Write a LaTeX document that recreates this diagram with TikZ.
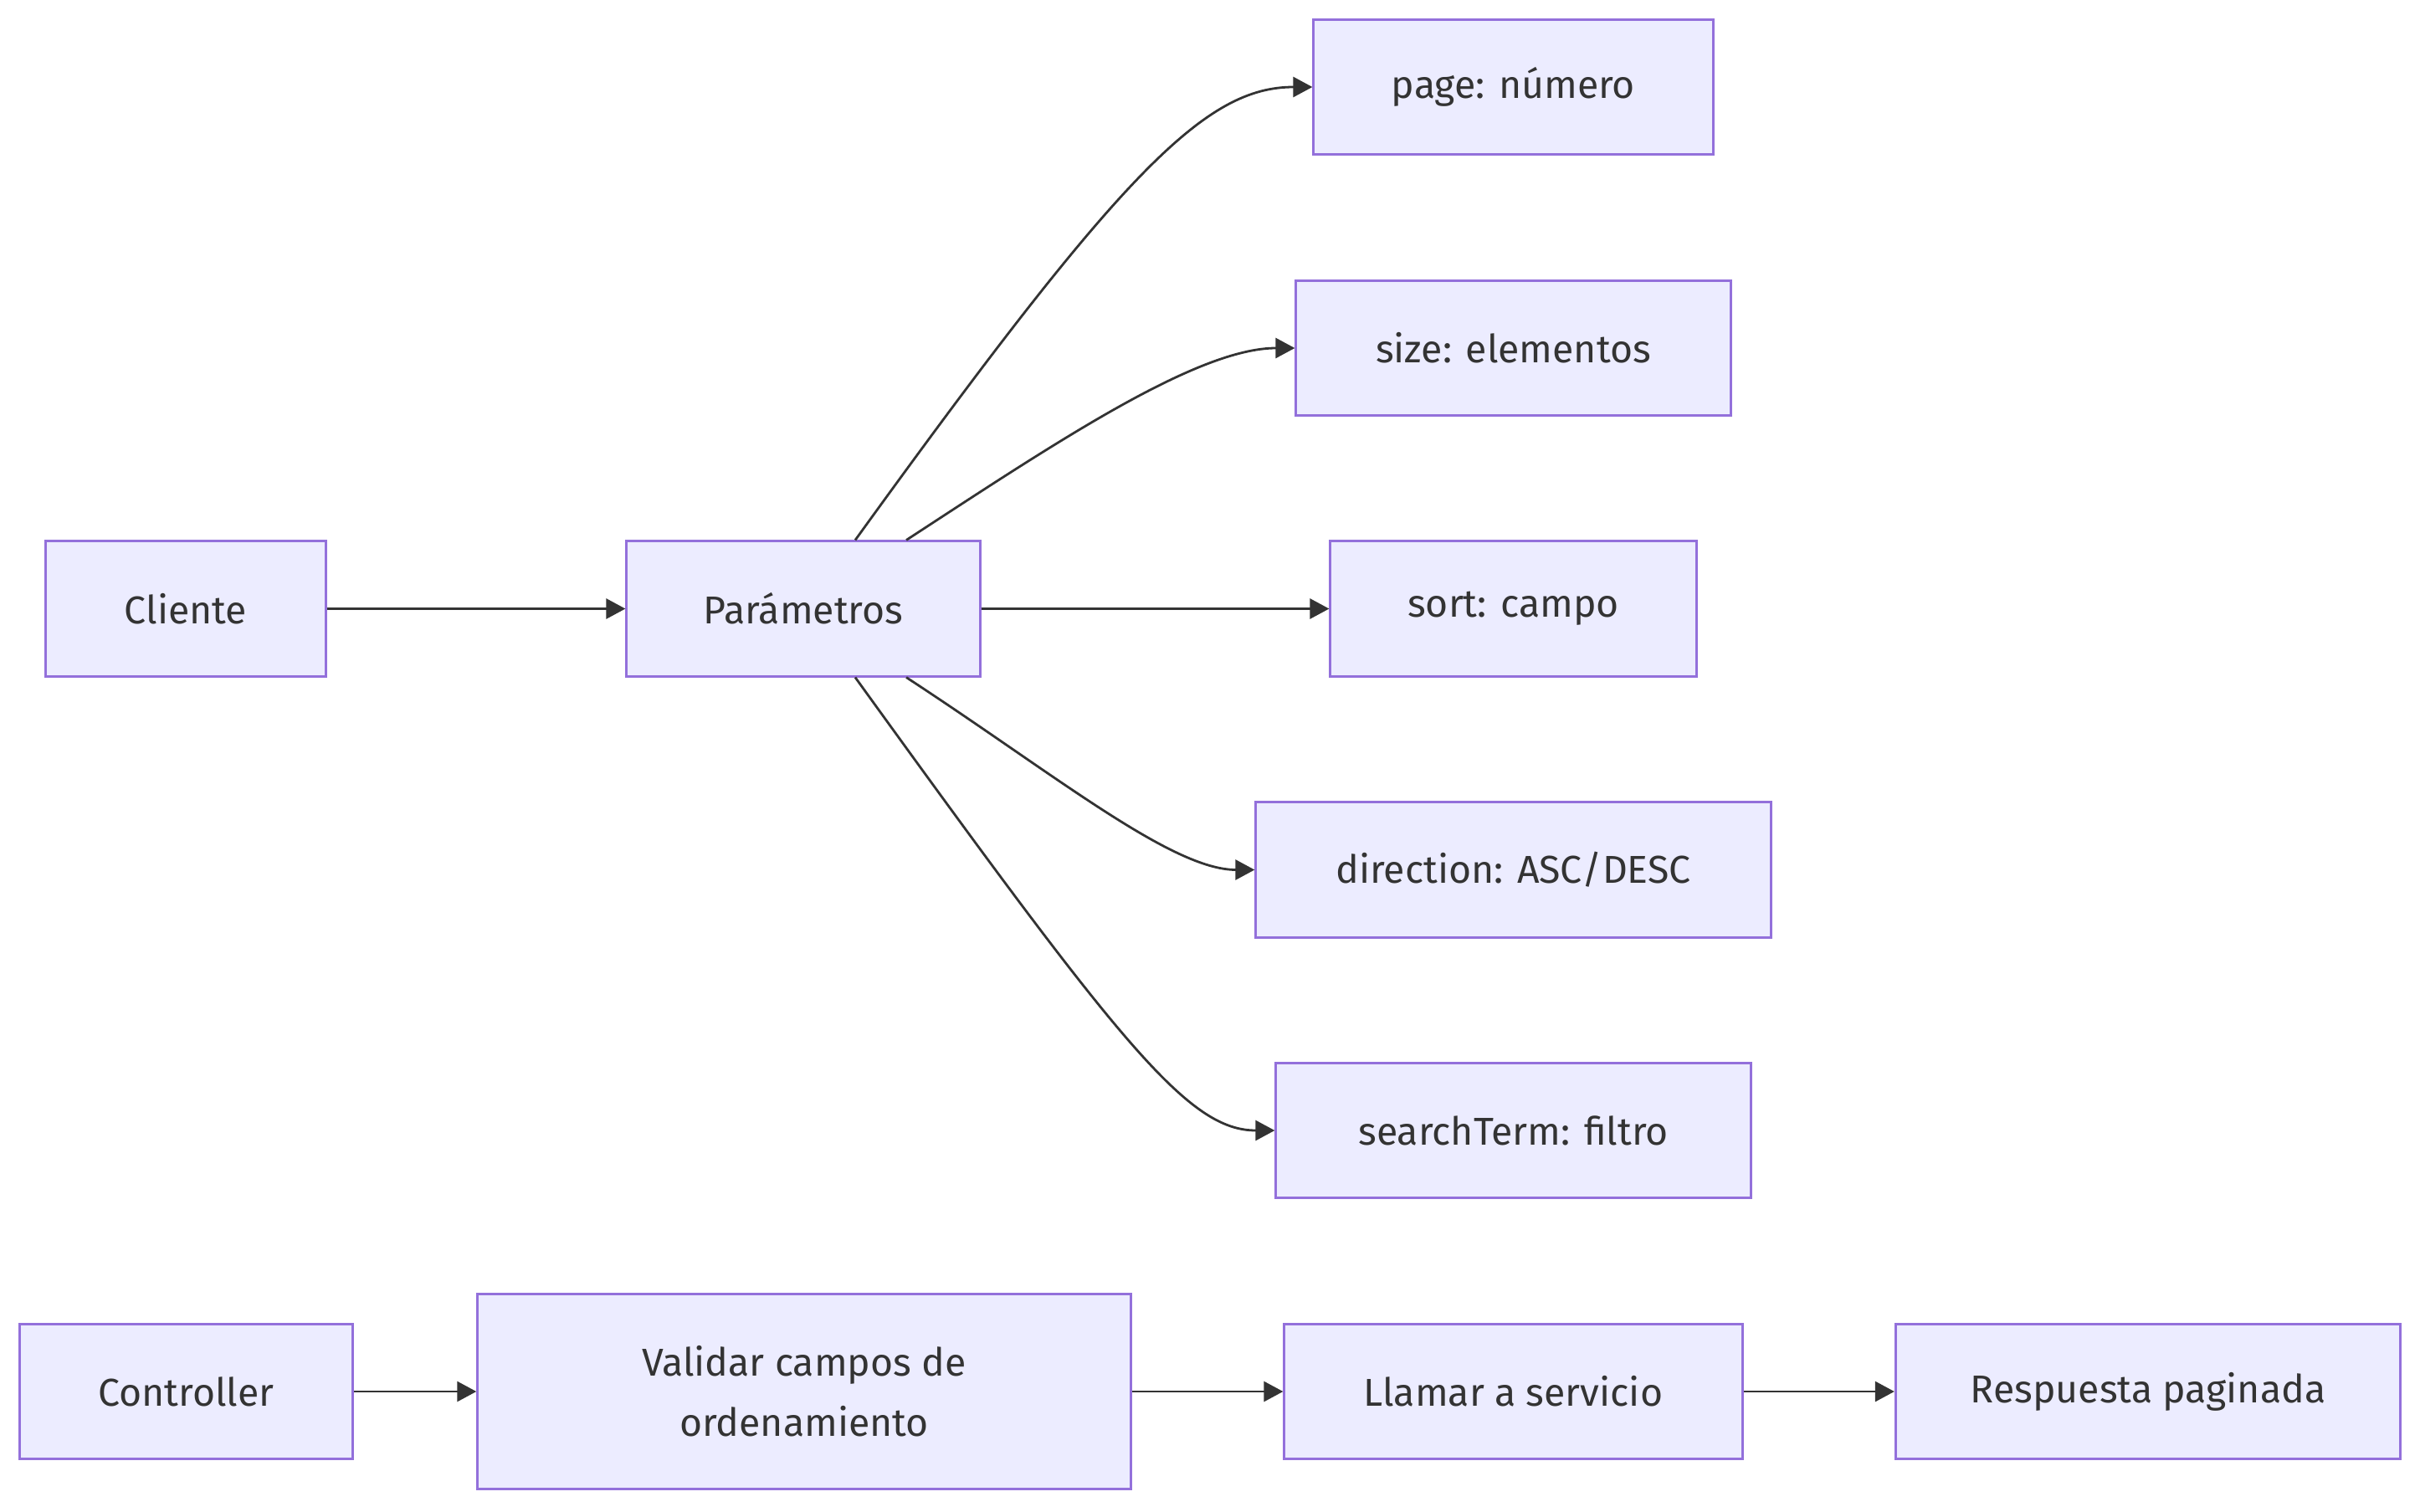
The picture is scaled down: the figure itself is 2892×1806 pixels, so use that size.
\documentclass[tikz,border=0pt]{standalone}
\usepackage{fontspec}
\setmainfont{Fira Sans}
\usetikzlibrary{arrows.meta}
\definecolor{nodefill}{HTML}{ECECFF}
\definecolor{nodeline}{HTML}{9370DB}
\definecolor{txt}{HTML}{333333}
\tikzset{
  box/.style={draw=nodeline, fill=nodefill, line width=0.03cm, inner sep=0pt,
    text=txt, align=center, font=\fontsize{13.2}{20.5}\selectfont, minimum height=1.61cm},
  edge/.style={draw=txt, line width=0.028cm, -{Triangle[length=0.23cm,width=0.24cm]}}
}
\begin{document}
\begin{tikzpicture}[x=0.01cm,y=-0.01cm]
\useasboundingbox (0,0) rectangle (2892,1806);
\node[box, minimum width=3.34cm] (cli) at (222,727.5) {Cliente};
\node[box, minimum width=4.22cm] (par) at (960,727.5) {Parámetros};
\node[box, minimum width=4.77cm] (page) at (1808.5,104) {page: número};
\node[box, minimum width=5.19cm] (size) at (1808.5,416) {size: elementos};
\node[box, minimum width=4.37cm] (sort) at (1808.5,727.5) {sort: campo};
\node[box, minimum width=6.15cm] (dir) at (1808.5,1039.5) {direction: ASC/DESC};
\node[box, minimum width=5.67cm] (search) at (1808.5,1351) {searchTerm: filtro};
\node[box, minimum width=3.98cm] (ctrl) at (222.5,1663) {Controller};
\node[box, minimum width=7.80cm, minimum height=2.33cm] (val) at (961,1663) {Validar campos de\\ordenamiento};
\node[box, minimum width=5.47cm] (call) at (1808.5,1663) {Llamar a servicio};
\node[box, minimum width=6.03cm] (resp) at (2567,1663) {Respuesta paginada};

\draw[edge] (cli) -- (par);
\draw[edge] (par) -- (sort);
\draw[edge] ([xshift=0.62cm]par.north) .. controls (1340,205) and (1440,104) .. (page.west);
\draw[edge] ([xshift=1.23cm]par.north) .. controls (1260,530) and (1430,416) .. (size.west);
\draw[edge] ([xshift=1.23cm]par.south) .. controls (1260,925) and (1400,1039.5) .. (dir.west);
\draw[edge] ([xshift=0.62cm]par.south) .. controls (1340,1250) and (1420,1351) .. (search.west);
\draw[edge] (ctrl) -- (val);
\draw[edge] (val) -- (call);
\draw[edge] (call) -- (resp);
\end{tikzpicture}
\end{document}
